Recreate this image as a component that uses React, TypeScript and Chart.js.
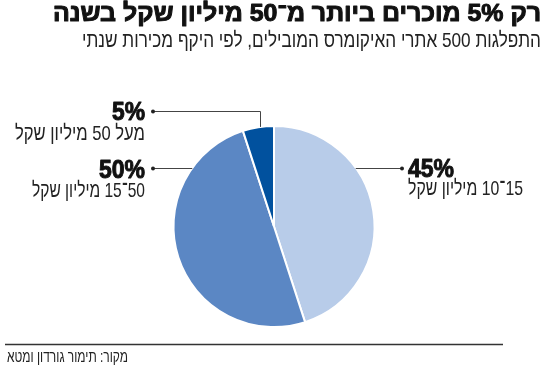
import React, { useEffect, useRef } from 'react';
import { Chart, registerables } from 'chart.js';

Chart.register(...registerables);

// ---- data ----
const values = [45, 50, 5];
const pctLabels = ['45%', '50%', '5%'];
const categories = ['15־10 מיליון שקל', '50־15 מיליון שקל', 'מעל 50 מיליון שקל'];
const sliceColors = ['#b8cce9', '#5b87c4', '#01519e'];
const titleText = 'רק 5% מוכרים ביותר מ־50 מיליון שקל בשנה';
const subtitleText = 'התפלגות 500 אתרי האיקומרס המובילים, לפי היקף מכירות שנתי';
const sourceText = 'מקור: תימור גורדון ומטא';

// ---- layout (positions/styles only) ----
const FONT = '"Liberation Sans", "DejaVu Sans", Arial, sans-serif';
const labelLayout = [
  { side: 'right', lineY: 168, dotX: 402, textX: 408, pctBase: 177, catBase: 195, pctW: 46, catW: 115, elbow: false },
  { side: 'left', lineY: 168, dotX: 153, textX: 145, pctBase: 178, catBase: 197, pctW: 46, catW: 113, elbow: false },
  { side: 'left', lineY: 111, dotX: 153, textX: 145, pctBase: 120, catBase: 140, pctW: 33, catW: 130, elbow: true },
];

function fitText(
  ctx: CanvasRenderingContext2D,
  text: string,
  x: number,
  y: number,
  font: string,
  align: 'left' | 'right',
  width: number,
  color: string,
  dir: 'rtl' | 'ltr' = 'rtl',
  stroke = 0
) {
  ctx.save();
  ctx.font = font;
  (ctx as any).direction = dir;
  ctx.textAlign = align;
  ctx.textBaseline = 'alphabetic';
  ctx.fillStyle = color;
  const w = ctx.measureText(text).width || 1;
  const s = width / w;
  ctx.translate(x, y);
  ctx.scale(s, 1);
  ctx.fillText(text, 0, 0);
  if (stroke > 0) {
    ctx.strokeStyle = color;
    ctx.lineWidth = stroke;
    ctx.lineJoin = 'round';
    ctx.strokeText(text, 0, 0);
  }
  ctx.restore();
}

const annotationPlugin = {
  id: 'annotations',
  afterDraw(chart: any) {
    const ctx: CanvasRenderingContext2D = chart.ctx;
    const meta = chart.getDatasetMeta(0);
    const first = meta.data[0].getProps(['x', 'y', 'outerRadius'], true);
    const cx = first.x;
    const cy = first.y;
    const r = first.outerRadius;

    // titles
    fitText(ctx, titleText, 541, 21, `bold 24px ${FONT}`, 'right', 488, '#111', 'rtl', 1);
    fitText(ctx, subtitleText, 541, 47, `21px ${FONT}`, 'right', 459, '#222');

    // labels & leaders
    meta.data.forEach((arc: any, i: number) => {
      const L = labelLayout[i];
      const p = arc.getProps(['startAngle', 'endAngle'], true);
      ctx.save();
      ctx.strokeStyle = '#444';
      ctx.lineWidth = 1;
      ctx.beginPath();
      const ly = Math.round(L.lineY) + 0.5;
      if (L.elbow) {
        const mid = (p.startAngle + p.endAngle) / 2;
        const px = Math.round(cx + r * Math.cos(mid)) + 2.5;
        const py = cy - Math.sqrt(Math.max(0, r * r - (px - cx) * (px - cx)));
        ctx.moveTo(L.dotX, ly);
        ctx.lineTo(px, ly);
        ctx.lineTo(px, py);
      } else {
        const dy = L.lineY - cy;
        const dx = Math.sqrt(Math.max(0, r * r - dy * dy));
        const ex = L.side === 'right' ? cx + dx : cx - dx;
        ctx.moveTo(L.dotX, ly);
        ctx.lineTo(ex, ly);
      }
      ctx.stroke();
      ctx.fillStyle = '#222';
      ctx.beginPath();
      ctx.arc(L.dotX, ly, 2, 0, Math.PI * 2);
      ctx.fill();
      ctx.restore();

      const align = L.side === 'right' ? 'left' : 'right';
      fitText(ctx, pctLabels[i], L.textX, L.pctBase, `bold 26px ${FONT}`, align, L.pctW, '#111', 'ltr', 1);
      fitText(ctx, categories[i], L.textX, L.catBase, `21px ${FONT}`, align, L.catW, '#222');
    });

    // source rule and text
    ctx.save();
    ctx.strokeStyle = '#333';
    ctx.lineWidth = 1.5;
    ctx.beginPath();
    ctx.moveTo(5, 344.5);
    ctx.lineTo(503, 344.5);
    ctx.stroke();
    ctx.restore();
    fitText(ctx, sourceText, 7, 362, `16px ${FONT}`, 'left', 121, '#222');
  },
};

export default function App() {
  const ref = useRef<HTMLCanvasElement>(null);
  useEffect(() => {
    if (!ref.current) return;
    const chart = new Chart(ref.current, {
      type: 'pie',
      data: {
        labels: categories,
        datasets: [
          {
            data: values,
            backgroundColor: sliceColors,
            borderColor: '#ffffff',
            borderWidth: 2,
          },
        ],
      },
      options: {
        responsive: false,
        animation: false,
        layout: { padding: { top: 125, bottom: 43, left: 0, right: 2 } },
        plugins: {
          legend: { display: false },
          tooltip: { enabled: false },
          title: { display: false },
        },
      },
      plugins: [annotationPlugin],
    });
    return () => chart.destroy();
  }, []);
  return (
    <div style={{ position: 'fixed', left: 0, top: 0, width: 550, height: 371, background: '#fff' }}>
      <canvas ref={ref} width={550} height={371} style={{ width: 550, height: 371, display: 'block' }} />
    </div>
  );
}
